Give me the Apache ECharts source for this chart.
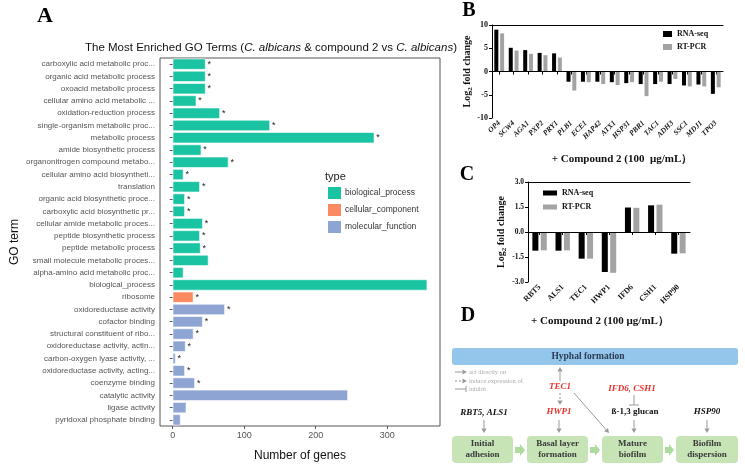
<!DOCTYPE html>
<html><head><meta charset="utf-8">
<script src="https://cdn.jsdelivr.net/npm/echarts@6/dist/echarts.min.js"></script>
<style>html,body{margin:0;padding:0;background:#fff}#c{width:745px;height:472px}</style>
</head><body><div id="c"></div>
<script>
// ---------- Panel A data ----------
const goTerms = [
 'carboxylic acid metabolic proc...','organic acid metabolic process','oxoacid metabolic process',
 'cellular amino acid metabolic ...','oxidation-reduction process','single-organism metabolic proc...',
 'metabolic process','amide biosynthetic process','organonitrogen compound metabo...',
 'cellular amino acid biosyntheti...','translation','organic acid biosynthetic proce...',
 'carboxylic acid biosynthetic pr...','cellular amide metabolic proces...','peptide biosynthetic process',
 'peptide metabolic process','small molecule metabolic proces...','alpha-amino acid metabolic proc...',
 'biological_process','ribosome','oxidoreductase activity','cofactor binding',
 'structural constituent of ribo...','oxidoreductase activity, actin...','carbon-oxygen lyase activity, ...',
 'oxidoreductase activity, acting...','coenzyme binding','catalytic activity','ligase activity',
 'pyridoxal phosphate binding'];
const goCounts = [46,46,46,33,66,136,282,40,78,15,38,17,17,42,38,39,50,15,356,29,73,42,29,18,4,17,31,245,19,11];
const goTypes = ['BP','BP','BP','BP','BP','BP','BP','BP','BP','BP','BP','BP','BP','BP','BP','BP','BP','BP','BP',
 'CC','MF','MF','MF','MF','MF','MF','MF','MF','MF','MF'];
const goSig = [1,1,1,1,1,1,1,1,1,1,1,1,1,1,1,1,0,0,0,1,1,1,1,1,1,1,1,0,0,0];
const typeKeys = ['BP','CC','MF'];
const typeNames = ['biological_process','cellular_component','molecular_function'];
const xTicksA = [0,100,200,300];

// ---------- Panel B data ----------
const genesB = ['OP4','SCW4','AGA1','PXP2','PRY1','PLB1','ECE1','HAP42','ATX1','HSP31','PBR1','TAC1','ADH3','SSC1','MDJ1','TPO3'];
const rnaB = [9.0,5.1,4.6,4.0,3.9,-2.2,-2.2,-2.2,-2.3,-2.5,-2.7,-2.7,-2.7,-3.0,-2.8,-4.8];
const pcrB = [8.2,4.5,3.8,3.5,3.0,-4.1,-2.3,-2.7,-2.9,-2.3,-5.3,-2.2,-1.6,-3.2,-3.2,-3.4];

// ---------- Panel C data ----------
const genesC = ['RBT5','ALS1','TEC1','HWP1','IFD6','CSH1','HSP90'];
const rnaC = [-1.12,-1.12,-1.6,-2.4,1.47,1.6,-1.3];
const pcrC = [-1.1,-1.1,-1.6,-2.45,1.45,1.64,-1.28];

const SERIF = "'Liberation Serif','DejaVu Serif',serif";
const SANS = "'Liberation Sans',Arial,sans-serif";
const typeColors = ['#1ac4a2','#fb8a62','#8ea4d2'];

const chart = echarts.init(document.getElementById('c'));

// Panel A series
const seriesA = typeKeys.map((k,ti)=>({
  name: typeNames[ti], type:'bar', xAxisIndex:0, yAxisIndex:0, stack:'go',
  barCategoryGap:'10%',
  itemStyle:{color:typeColors[ti], borderColor:'#fff', borderWidth:0.6},
  label:{show:true, position:'right', distance:2, fontSize:9, color:'#222', fontFamily:SANS,
         formatter:p=> goSig[p.dataIndex] ? '*' : ''},
  data: goCounts.map((v,i)=> goTypes[i]===k ? v : null)
}));

function zeroLine(){ return {silent:true, symbol:'none', label:{show:false}, lineStyle:{color:'#000', width:1, type:'solid'}, data:[{yAxis:0}]}; }

// ---------- Panel D graphics ----------
const G = '#9a9a9a';
function arrow(x1,y1,x2,y2,dash){
  const a=Math.atan2(y2-y1,x2-x1), L=4.5, W=2.6;
  const bx=x2-L*Math.cos(a), by=y2-L*Math.sin(a), px=-Math.sin(a)*W, py=Math.cos(a)*W;
  return [{type:'line',shape:{x1:x1,y1:y1,x2:bx,y2:by},style:{stroke:G,lineWidth:1,lineDash:dash?[2,2]:null}},
          {type:'polygon',shape:{points:[[x2,y2],[bx+px,by+py],[bx-px,by-py]]},style:{fill:G}}];
}
function txt(t,x,y,o){
  o=o||{};
  return {type:'text', z:10, style:{text:t,x:x,y:y,align:o.align||'center',verticalAlign:'middle',
    fill:o.fill||'#222', fontSize:o.size||9, fontWeight:o.weight||'bold', fontStyle:o.style||'normal',
    fontFamily:o.family||SERIF, lineHeight:o.lh||12}};
}
const gfx = [];
// panel letters
gfx.push(txt('A',45,16,{size:22,fill:'#000'}));
gfx.push(txt('B',469,11,{size:20,fill:'#000'}));
gfx.push(txt('C',467,175,{size:20,fill:'#000'}));
gfx.push(txt('D',468,316,{size:20,fill:'#000'}));
// GO term axis title
gfx.push({type:'text', rotation:Math.PI/2, x:15, y:242, style:{text:'GO term', x:0, y:0, align:'center', verticalAlign:'middle', fill:'#111', fontSize:12, fontFamily:SANS}});
// legend title "type"
gfx.push(txt('type',325,177,{align:'left',size:11,weight:'normal',family:SANS,fill:'#222'}));
// compound captions
gfx.push(txt('+ Compound 2 (100  \u03bcg/mL\uff09',622,159,{size:11,fill:'#111'}));
gfx.push(txt('+ Compound 2 (100 \u03bcg/mL\uff09',600,321,{size:11,fill:'#111'}));
// Hyphal bar
gfx.push({type:'rect',shape:{x:452,y:348,width:286,height:17,r:3},style:{fill:'#93c6ea'}});
gfx.push(txt('Hyphal formation',588,357,{size:9.5,fill:'#2d3b55'}));
// legend of line types
gfx.push(...arrow(455,372,467,372,false));
gfx.push(...arrow(455,381,467,381,true));
gfx.push({type:'line',shape:{x1:455,y1:389,x2:466,y2:389},style:{stroke:G,lineWidth:1}});
gfx.push({type:'line',shape:{x1:466,y1:386,x2:466,y2:392},style:{stroke:G,lineWidth:1}});
gfx.push(txt('act directly on',469,372,{align:'left',size:6.5,weight:'normal',fill:'#aaa'}));
gfx.push(txt('induce expression of',469,381,{align:'left',size:6.5,weight:'normal',fill:'#aaa'}));
gfx.push(txt('inhibit',469,389.5,{align:'left',size:6.5,weight:'normal',fill:'#aaa'}));
// stage boxes
const boxes = [[452,513,'Initial\nadhesion'],[527,588,'Basal layer\nformation'],[602,663,'Mature\nbiofilm'],[676,738,'Biofilm\ndispersion']];
boxes.forEach(b=>{
  gfx.push({type:'rect',shape:{x:b[0],y:436,width:b[1]-b[0],height:27,r:4},style:{fill:'#c6e4b6'}});
  gfx.push(txt(b[2],(b[0]+b[1])/2,449.5,{size:9,fill:'#3a3a3a',lh:11}));
});
[[514,526],[589,601],[664,675]].forEach(a=>{
  const x0=a[0]+1,x1=a[1]-1,xm=x1-5;
  gfx.push({type:'polygon',shape:{points:[[x0,447],[xm,447],[xm,444],[x1,450],[xm,456],[xm,453],[x0,453]]},style:{fill:'#acdb9d'}});
});
// gene labels and arrows
gfx.push(txt('RBT5, ALS1',484,413,{size:9,style:'italic',fill:'#111'}));
gfx.push(...arrow(484,420,484,433,false));
gfx.push(txt('TEC1',560,387,{size:9,style:'italic',fill:'#e8302a'}));
gfx.push(...arrow(560,381,560,367,false));
gfx.push(...arrow(560,393,560,405,true));
gfx.push(txt('HWP1',559,412,{size:9,style:'italic',fill:'#e8302a'}));
gfx.push(...arrow(559,420,559,433,false));
gfx.push(...arrow(574,393,609,433,false));
gfx.push(txt('IFD6, CSH1',632,389,{size:9,style:'italic',fill:'#e8302a'}));
gfx.push({type:'line',shape:{x1:634,y1:395,x2:634,y2:405},style:{stroke:G,lineWidth:1}});
gfx.push({type:'line',shape:{x1:629,y1:405,x2:639,y2:405},style:{stroke:G,lineWidth:1}});
gfx.push(txt('\u00df-1,3 glucan',635,412,{size:9,fill:'#111'}));
gfx.push(...arrow(634,420,634,433,false));
gfx.push(txt('HSP90',707,412,{size:9,style:'italic',fill:'#111'}));
gfx.push(...arrow(707,420,707,433,false));

const yNameRich = {a:{fontFamily:SERIF,fontWeight:'bold',fontSize:10,color:'#111'},
                   s:{fontFamily:SERIF,fontWeight:'bold',fontSize:7,color:'#111',verticalAlign:'bottom',padding:[6,0,0,0]}};

const option = {
  animation:false,
  title:{text:'{n|The Most Enriched GO Terms (}{i|C. albicans}{n| & compound 2 vs }{i|C. albicans}{n|)}',
    left:266, top:37, textAlign:'center',
    textStyle:{fontWeight:'normal', rich:{n:{fontSize:11.5,fontFamily:SANS,fontWeight:'normal',color:'#111'},i:{fontSize:11.5,fontFamily:SANS,fontWeight:'normal',fontStyle:'italic',color:'#111'}}}},
  legend:[
    {data:typeNames, orient:'vertical', left:326, top:185, padding:0, itemWidth:15, itemHeight:14, itemGap:1, icon:'rect',
     selectedMode:false, textStyle:{fontSize:8.5, fontFamily:SANS, color:'#333', padding:[0,0,0,-2]}},
    {data:['RNA-seq','RT-PCR'], orient:'vertical', left:663, top:30, padding:0, itemWidth:9, itemHeight:6, itemGap:5, icon:'rect',
     selectedMode:false, textStyle:{fontSize:8, fontFamily:SERIF, fontWeight:'bold', color:'#111'}},
    {data:['RNA-seq','RT-PCR'], orient:'vertical', left:543, top:189, padding:0, itemWidth:14, itemHeight:5, itemGap:6, icon:'rect',
     selectedMode:false, textStyle:{fontSize:8, fontFamily:SERIF, fontWeight:'bold', color:'#111'}}
  ],
  grid:[
    {left:160, top:58, width:280, height:368, show:true, borderColor:'#555', borderWidth:1, backgroundColor:'transparent'},
    {left:492, top:25, width:231, height:93},
    {left:528, top:182, width:162, height:100}
  ],
  xAxis:[
    {gridIndex:0, type:'value', min:-17.8, max:373.8, splitLine:{show:false},
     axisLine:{show:false}, axisTick:{show:true, customValues:xTicksA, length:3, lineStyle:{color:'#555'}},
     axisLabel:{customValues:xTicksA, fontSize:9, color:'#555', fontFamily:SANS, margin:5},
     name:'Number of genes', nameLocation:'middle', nameGap:24, nameTextStyle:{fontSize:12, fontFamily:SANS, color:'#111'}},
    {gridIndex:1, type:'category', data:genesB, position:'bottom',
     axisLine:{lineStyle:{color:'#000'}}, axisTick:{show:true, alignWithLabel:true, length:3, lineStyle:{color:'#000'}},
     axisLabel:{rotate:45, fontSize:7.5, fontWeight:'bold', fontStyle:'italic', fontFamily:SERIF, color:'#111', margin:4, interval:0}},
    {gridIndex:1, type:'category', data:genesB, position:'top',
     axisLine:{lineStyle:{color:'#000'}}, axisTick:{show:false}, axisLabel:{show:false}},
    {gridIndex:2, type:'category', data:genesC, position:'bottom',
     axisLine:{lineStyle:{color:'#000'}}, axisTick:{show:true, alignWithLabel:true, length:3, lineStyle:{color:'#000'}},
     axisLabel:{rotate:45, fontSize:8, fontWeight:'bold', fontFamily:SERIF, color:'#111', margin:4, interval:0}},
    {gridIndex:2, type:'category', data:genesC, position:'top',
     axisLine:{lineStyle:{color:'#000'}}, axisTick:{show:false}, axisLabel:{show:false}}
  ],
  yAxis:[
    {gridIndex:0, type:'category', data:goTerms, inverse:true,
     axisLine:{show:false}, axisTick:{show:true, alignWithLabel:true, length:3, lineStyle:{color:'#555'}},
     axisLabel:{fontSize:8, color:'#555', fontFamily:SANS, margin:5, interval:0}},
    {gridIndex:1, type:'value', min:-10, max:10, interval:5, splitLine:{show:false},
     axisLine:{show:true, lineStyle:{color:'#000'}}, axisTick:{show:true, length:3, lineStyle:{color:'#000'}},
     axisLabel:{fontSize:8, fontWeight:'bold', fontFamily:SERIF, color:'#111', margin:4},
     name:'{a|Log}{s|2}{a| fold change}', nameLocation:'middle', nameGap:15, nameTextStyle:{rich:yNameRich}},
    {gridIndex:2, type:'value', min:-3, max:3, interval:1.5, splitLine:{show:false},
     axisLine:{show:true, lineStyle:{color:'#000'}}, axisTick:{show:true, length:3, lineStyle:{color:'#000'}},
     axisLabel:{fontSize:7.5, fontWeight:'bold', fontFamily:SERIF, color:'#111', margin:4, formatter:v=>v.toFixed(1)},
     name:'{a|Log}{s|2}{a| fold change}', nameLocation:'middle', nameGap:20, nameTextStyle:{rich:yNameRich}}
  ],
  series:[
    ...seriesA,
    {name:'RNA-seq', type:'bar', xAxisIndex:1, yAxisIndex:1, data:rnaB, barWidth:4, barGap:'45%', itemStyle:{color:'#000'}, markLine:zeroLine()},
    {name:'RT-PCR', type:'bar', xAxisIndex:1, yAxisIndex:1, data:pcrB, barWidth:4, barGap:'45%', itemStyle:{color:'#a3a3a3'}},
    {name:'RNA-seq', type:'bar', xAxisIndex:3, yAxisIndex:2, data:rnaC, barWidth:6, barGap:'40%', itemStyle:{color:'#000'}, markLine:zeroLine()},
    {name:'RT-PCR', type:'bar', xAxisIndex:3, yAxisIndex:2, data:pcrC, barWidth:6, barGap:'40%', itemStyle:{color:'#a3a3a3'}}
  ],
  graphic: gfx
};
chart.setOption(option);
</script></body></html>
